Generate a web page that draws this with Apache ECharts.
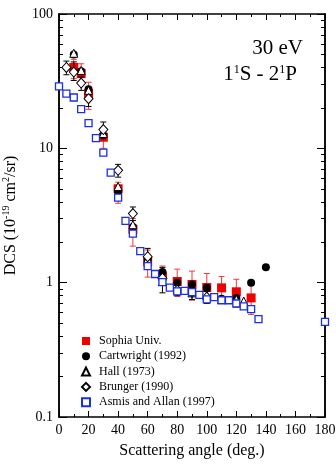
<!DOCTYPE html>
<html>
<head>
<meta charset="utf-8">
<script src="https://cdn.jsdelivr.net/npm/echarts@6/dist/echarts.min.js"></script>
<style>
  html, body { margin: 0; padding: 0; background: #fff; }
  #chart { width: 336px; height: 467px; }
</style>
</head>
<body>
<div id="chart"></div>
<script>
// --- data (angle in deg, DCS in 1e-19 cm^2/sr) ---
const sophiaAngle = [10, 15, 20, 30, 40, 50, 60, 70, 80, 90, 100, 110, 120, 130];
const sophiaDcs   = [40, 36, 25.5, 12.1, 5.0, 2.5, 1.43, 1.12, 1.02, 0.97, 0.92, 0.915, 0.855, 0.77];
const sophiaLow   = [33, 31, 19.5, 10.0, 3.9, 1.87, 1.10, 0.97, 0.79, 0.74, 0.71, 0.71, 0.655, 0.58];
const sophiaHigh  = [46, 42.6, 31, 14, 5.6, 3.0, 1.75, 1.33, 1.26, 1.22, 1.17, 1.11, 1.06, 0.96];

const cartAngle = [10, 15, 20, 30, 40, 50, 60, 70, 80, 90, 100, 110, 120, 130, 140];
const cartDcs   = [50, 37.5, 27.5, 12.5, 4.75, 2.6, 1.5, 1.2, 1.0, 0.97, 0.915, 0.76, 0.77, 1.0, 1.3];

const hallAngle = [10, 15, 20, 30, 40, 50, 60, 70, 80, 90, 100, 110, 120, 125];
const hallDcs   = [51, 38, 27, 12.9, 5.2, 2.7, 1.5, 1.02, 0.89, 0.84, 0.8, 0.75, 0.75, 0.73];

const brungerAngle = [5, 10, 15, 20, 30, 40, 50, 60, 70, 80, 90, 100];
const brungerDcs   = [40, 37, 30.6, 23.4, 13.8, 6.86, 3.27, 1.56, 1.08, 0.88, 0.85, 0.78];
const brungerLow   = [35.3, 32, 27, 20.5, 12.2, 6.1, 2.9, 1.35, 0.84, 0.8, 0.75, 0.7];
const brungerHigh  = [44.6, 44, 34, 27.5, 15.7, 7.6, 3.66, 1.8, 1.3, 0.97, 0.95, 0.86];

const asmisAngle = [0, 5, 10, 15, 20, 25, 30, 35, 40, 45, 50, 55, 60, 65, 70, 75, 80, 85, 90, 95, 100, 105, 110, 115, 120, 125, 130, 135, 180];
const asmisDcs   = [28.9, 25.5, 23.9, 19.6, 15.4, 11.9, 9.3, 6.6, 4.3, 2.88, 2.32, 1.72, 1.33, 1.16, 1.01, 0.92, 0.86, 0.87, 0.85, 0.81, 0.75, 0.78, 0.74, 0.74, 0.70, 0.665, 0.635, 0.535, 0.51];

const yMinorTicks = [0.2, 0.3, 0.4, 0.5, 0.6, 0.7, 0.8, 0.9, 2, 3, 4, 5, 6, 7, 8, 9, 20, 30, 40, 50, 60, 70, 80, 90];

const FONT = '"Liberation Serif", "DejaVu Serif", serif';

const chart = echarts.init(document.getElementById('chart'));

const pairs = (xs, ys) => xs.map((x, i) => [x, ys[i]]);
const bars = (xs, lo, hi) => xs.map((x, i) => [x, lo[i], hi[i]]);

function errorBar(color) {
  return function (params, api) {
    const lo = api.coord([api.value(0), api.value(1)]);
    const hi = api.coord([api.value(0), api.value(2)]);
    const w = 3;
    const st = { stroke: color, lineWidth: 1 };
    return {
      type: 'group',
      children: [
        { type: 'line', shape: { x1: lo[0], y1: lo[1], x2: hi[0], y2: hi[1] }, style: st },
        { type: 'line', shape: { x1: lo[0] - w, y1: lo[1], x2: lo[0] + w, y2: lo[1] }, style: st },
        { type: 'line', shape: { x1: hi[0] - w, y1: hi[1], x2: hi[0] + w, y2: hi[1] }, style: st }
      ]
    };
  };
}

const axisLine = { show: true, lineStyle: { color: '#000', width: 1.5 } };

const yBase = {
  type: 'log', logBase: 10, min: 0.1, max: 100,
  axisLine: axisLine,
  splitLine: { show: false },
  minorSplitLine: { show: false }
};

const option = {
  animation: false,
  grid: { left: 59, right: 11, top: 14, bottom: 50, containLabel: false, outerBoundsMode: 'none' },
  legend: {
    orient: 'vertical',
    left: 76, top: 330,
    itemGap: 3.3, itemWidth: 8, itemHeight: 8,
    textStyle: { fontFamily: FONT, fontSize: 12, color: '#000', padding: [0, 0, 0, 4] },
    data: ['Sophia Univ.', 'Cartwright (1992)', 'Hall (1973)', 'Brunger (1990)', 'Asmis and Allan (1997)']
  },
  graphic: [
    {
      type: 'text', right: 33, top: 38,
      style: { text: '30 eV', font: '21px ' + FONT, fill: '#000' }
    },
    {
      type: 'text', right: 39, top: 64,
      style: {
        text: '1{s|1}S - 2{s|1}P',
        font: '21px ' + FONT, fill: '#000',
        rich: { s: { fontSize: 12, lineHeight: 12, verticalAlign: 'top', fontFamily: FONT } }
      }
    }
  ],
  xAxis: [
    {
      type: 'value', min: 0, max: 180, interval: 20, position: 'bottom',
      axisLine: axisLine,
      axisTick: { inside: true, length: 6, lineStyle: { color: '#000' } },
      minorTick: { show: true, splitNumber: 2, length: 3, lineStyle: { color: '#000' } },
      axisLabel: { fontFamily: FONT, fontSize: 14, color: '#000', margin: 6 },
      splitLine: { show: false },
      name: 'Scattering angle (deg.)', nameLocation: 'middle', nameGap: 26,
      nameTextStyle: { fontFamily: FONT, fontSize: 16, color: '#000' }
    },
    {
      type: 'value', min: 0, max: 180, interval: 20, position: 'top',
      axisLine: axisLine,
      axisTick: { inside: true, length: 6, lineStyle: { color: '#000' } },
      minorTick: { show: true, splitNumber: 2, length: 3, lineStyle: { color: '#000' } },
      axisLabel: { show: false },
      splitLine: { show: false }
    }
  ],
  yAxis: [
    Object.assign({}, yBase, {
      position: 'left',
      axisTick: { inside: true, length: 8, lineStyle: { color: '#000' } },
      axisLabel: { fontFamily: FONT, fontSize: 14, color: '#000', margin: 6 },
      name: 'DCS (10{s|-19} cm{s|2}/sr)', nameLocation: 'middle', nameGap: 36,
      nameTextStyle: {
        fontFamily: FONT, fontSize: 16, color: '#000', lineHeight: 20,
        rich: { s: { fontSize: 10, lineHeight: 10, verticalAlign: 'top', fontFamily: FONT } }
      }
    }),
    Object.assign({}, yBase, {
      position: 'left',
      axisTick: { inside: true, length: 4, lineStyle: { color: '#000' }, customValues: yMinorTicks },
      axisLabel: { show: false }
    }),
    Object.assign({}, yBase, {
      position: 'right',
      axisTick: { inside: true, length: 8, lineStyle: { color: '#000' } },
      axisLabel: { show: false }
    }),
    Object.assign({}, yBase, {
      position: 'right',
      axisTick: { inside: true, length: 4, lineStyle: { color: '#000' }, customValues: yMinorTicks },
      axisLabel: { show: false }
    })
  ],
  series: [
    {
      type: 'custom', name: 'sophiaErr', renderItem: errorBar('#f03a3a'),
      encode: { x: 0, y: [1, 2] },
      data: bars(sophiaAngle, sophiaLow, sophiaHigh), z: 1
    },
    {
      type: 'scatter', name: 'Sophia Univ.', symbol: 'rect', symbolSize: 9,
      itemStyle: { color: '#ee0000', opacity: 1 },
      data: pairs(sophiaAngle, sophiaDcs), z: 2
    },
    {
      type: 'scatter', name: 'Cartwright (1992)', symbol: 'circle', symbolSize: 8,
      itemStyle: { color: '#000', opacity: 1 },
      data: pairs(cartAngle, cartDcs), z: 3
    },
    {
      type: 'scatter', name: 'Hall (1973)', symbol: 'triangle', symbolSize: 8,
      itemStyle: { color: '#fff', borderColor: '#000', borderWidth: 1, opacity: 1 },
      data: pairs(hallAngle, hallDcs), z: 4
    },
    {
      type: 'custom', name: 'brungerErr', renderItem: errorBar('#000'),
      encode: { x: 0, y: [1, 2] },
      data: bars(brungerAngle, brungerLow, brungerHigh), z: 4
    },
    {
      type: 'scatter', name: 'Brunger (1990)', symbol: 'diamond', symbolSize: [9, 10],
      itemStyle: { color: '#fff', borderColor: '#000', borderWidth: 1, opacity: 1 },
      data: pairs(brungerAngle, brungerDcs), z: 5
    },
    {
      type: 'scatter', name: 'Asmis and Allan (1997)', symbol: 'rect', symbolSize: 7,
      itemStyle: { color: '#fff', borderColor: '#1a2fe0', borderWidth: 1.3, opacity: 1 },
      data: pairs(asmisAngle, asmisDcs), z: 6
    }
  ]
};

chart.setOption(option);
</script>
</body>
</html>
